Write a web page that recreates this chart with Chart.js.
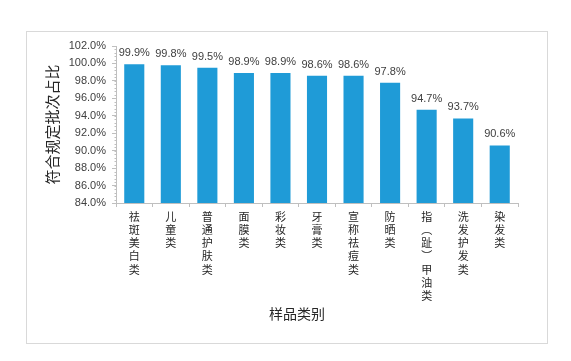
<!DOCTYPE html>
<html><head><meta charset="utf-8">
<script src="https://cdn.jsdelivr.net/npm/chart.js@4"></script>
<style>html,body{margin:0;padding:0;background:#fff;}#wrap{width:571px;height:361px;}</style>
</head><body><div id="wrap"><canvas id="c" width="571" height="361"></canvas></div>
<script>
const categories = ['祛斑美白类','儿童类','普通护肤类','面膜类','彩妆类','牙膏类','宣称祛痘类','防晒类','指︵趾︶甲油类','洗发护发类','染发类'];
const values = [99.9, 99.8, 99.5, 98.9, 98.9, 98.6, 98.6, 97.8, 94.7, 93.7, 90.6];
const yTitle = '符合规定批次占比';
const xTitle = '样品类别';
const yMin = 84, yMax = 102, yStep = 2, yMinorStep = 0.4;

const CJK = '"Noto Sans CJK SC", "Noto Sans", sans-serif';
const NUM = '"Liberation Sans", Arial, sans-serif';

const decor = {
  id: 'decor',
  beforeDraw(chart) {
    const ctx = chart.ctx;
    ctx.save();
    ctx.strokeStyle = '#d9d9d9';
    ctx.lineWidth = 1;
    ctx.strokeRect(26.5, 31.5, 521, 312);
    ctx.restore();
  },
  afterDraw(chart) {
    const ctx = chart.ctx;
    const y = chart.scales.y;
    const xPix = Math.round(chart.chartArea.left) + 0.5;
    ctx.save();
    ctx.strokeStyle = '#bfbfbf';
    ctx.lineWidth = 1;
    for (let v = yMin; v <= yMax + 1e-9; v += yMinorStep) {
      const py = Math.round(y.getPixelForValue(v)) + 0.5;
      ctx.beginPath(); ctx.moveTo(xPix - 2, py); ctx.lineTo(xPix, py); ctx.stroke();
    }
    // value labels
    ctx.fillStyle = '#404040';
    ctx.font = '11px ' + NUM;
    ctx.textAlign = 'center';
    ctx.textBaseline = 'alphabetic';
    chart.getDatasetMeta(0).data.forEach((bar, i) => {
      ctx.fillText(values[i].toFixed(1) + '%', bar.x, bar.y - 8);
    });
    // x title
    ctx.fillStyle = '#262626';
    ctx.font = '14px ' + CJK;
    ctx.textBaseline = 'middle';
    ctx.fillText(xTitle, (chart.chartArea.left + chart.chartArea.right) / 2 - 20, 314);
    ctx.restore();
  }
};

new Chart(document.getElementById('c'), {
  type: 'bar',
  data: {
    labels: categories.map(s => Array.from(s)),
    datasets: [{ data: values, backgroundColor: '#1F9BD7', borderWidth: 0, barPercentage: 0.55, categoryPercentage: 1 }]
  },
  options: {
    responsive: false,
    animation: false,
    devicePixelRatio: 1,
    layout: { padding: { left: 39, top: 46, right: 53, bottom: 0 } },
    plugins: { legend: { display: false }, tooltip: { enabled: false } },
    scales: {
      x: {
        afterFit(s) { s.height = 158; },
        grid: { display: true, drawOnChartArea: false, offset: true, tickLength: 4, color: '#bfbfbf' },
        border: { color: '#bfbfbf' },
        ticks: { maxRotation: 0, minRotation: 0, autoSkip: false, padding: 3, color: '#262626',
                 font: { family: CJK, size: 11, lineHeight: 1.2 } }
      },
      y: {
        min: yMin, max: yMax,
        afterFit(s) { s.width = 77; },
        grid: { display: true, drawOnChartArea: false, tickLength: 4, color: '#bfbfbf' },
        border: { color: '#bfbfbf' },
        ticks: { stepSize: yStep, padding: 6, color: '#404040', font: { family: NUM, size: 11 },
                 callback: v => v.toFixed(1) + '%' },
        title: { display: true, text: yTitle, color: '#262626', padding: 4,
                 font: { family: CJK, size: 15, lineHeight: 1.2 } }
      }
    }
  },
  plugins: [decor]
});
</script>
</body></html>
